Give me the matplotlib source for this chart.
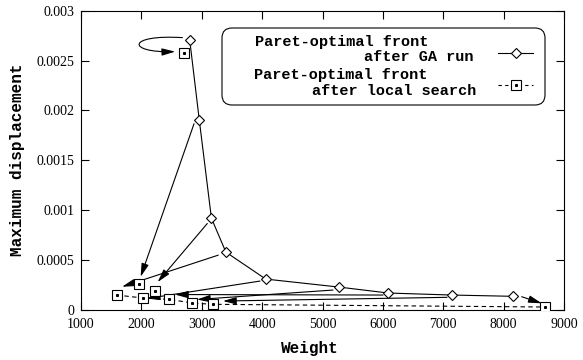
import matplotlib
matplotlib.use("Agg")
import matplotlib.pyplot as plt
from matplotlib.patches import FancyArrowPatch, FancyBboxPatch
from matplotlib.path import Path
from matplotlib.lines import Line2D

# GA front (diamonds)
ga_w = [2800, 2960, 3160, 3400, 4060, 5270, 6090, 7140, 8160]
ga_d = [0.00271, 0.0019, 0.00092, 0.00058, 0.00031, 0.00023, 0.00017, 0.00015, 0.000137]

# Local search front (squares joined by dashed line)
ls_w = [1590, 2030, 2460, 2840, 3190, 8685]
ls_d = [0.00015, 0.00012, 0.000107, 0.00007, 0.000057, 0.00003]

# Other local search results (not on the front)
ls_extra_w = [2700, 1960, 2220]
ls_extra_d = [0.00258, 0.00026, 0.00019]

# Arrows: start -> end
arrow_start_w = [2872, 3092, 3274, 3965, 5174, 6002, 7062, 8299]
arrow_start_d = [0.001867, 0.000867, 0.00055, 0.00029, 0.0002, 0.00015, 0.000127, 0.000133]
arrow_end_w = [1988, 2270, 1680, 2090, 2921, 2557, 3352, 8631]
arrow_end_d = [0.000333, 0.00028, 0.000233, 0.000115, 0.000105, 0.000155, 0.00009, 0.000067]

# loop arrow for the first GA point
loop_w = [2680, 1750, 1750, 2560]
loop_d = [0.00273, 0.002765, 0.002575, 0.00259]

xticks = [1000, 2000, 3000, 4000, 5000, 6000, 7000, 8000, 9000]
yticks = [0, 0.0005, 0.001, 0.0015, 0.002, 0.0025, 0.003]
ytick_labels = ["0", "0.0005", "0.001", "0.0015", "0.002", "0.0025", "0.003"]

fig = plt.figure(figsize=(5.83, 3.6), dpi=100)
ax = fig.add_axes([81 / 583, 1 - 310 / 360, (564 - 81) / 583, (310 - 10.7) / 360])

ax.plot(ga_w, ga_d, color="black", lw=0.8, marker="D", ms=5, mfc="white",
        mec="black", mew=0.8, zorder=3)
ax.plot(ls_w, ls_d, color="black", lw=0.8, ls=(0, (4, 3)), marker="s", ms=7,
        mfc="white", mec="black", mew=0.8, zorder=3)
ax.plot(ls_extra_w, ls_extra_d, ls="none", marker="s", ms=7, mfc="white",
        mec="black", mew=0.8, zorder=3)
ax.plot(ls_w + ls_extra_w, ls_d + ls_extra_d, ls="none", marker="s", ms=1.2,
        mfc="black", mec="black", zorder=4)

astyle = "-|>,head_length=0.8,head_width=0.22"
for sw, sd, ew, ed in zip(arrow_start_w, arrow_start_d, arrow_end_w, arrow_end_d):
    ax.annotate("", xy=(ew, ed), xytext=(sw, sd),
                arrowprops=dict(arrowstyle=astyle, color="black", lw=0.8,
                                shrinkA=0, shrinkB=0, mutation_scale=10),
                zorder=2)

loop_path = Path(list(zip(loop_w, loop_d)),
                 [Path.MOVETO, Path.CURVE4, Path.CURVE4, Path.CURVE4])
loop = FancyArrowPatch(path=loop_path, arrowstyle=astyle, color="black", lw=0.8,
                       mutation_scale=10, transform=ax.transData)
ax.add_patch(loop)

ax.set_xlim(1000, 9000)
ax.set_ylim(0, 0.003)
ax.set_xticks(xticks)
ax.set_yticks(yticks)
ax.set_yticklabels(ytick_labels)
ax.set_xticklabels([str(v) for v in xticks])
ax.tick_params(direction="in", length=6, width=0.8, top=True, right=True,
               labelsize=10)
ax.tick_params(axis="x", pad=6)
ax.tick_params(axis="y", pad=5)
for lab in ax.get_xticklabels() + ax.get_yticklabels():
    lab.set_family("Liberation Serif")
for sp in ax.spines.values():
    sp.set_linewidth(0.8)

lab_font = dict(family="Liberation Mono", weight="bold", size=11.5)
fig.text(310 / 583, 1 - 348 / 360, "Weight", ha="center", va="center", **lab_font)
fig.text(18 / 583, 1 - 160 / 360, "Maximum displacement", ha="center", va="center",
         rotation=90, **lab_font)

# legend box (drawn manually in pixel-inch coords)
tr = fig.dpi_scale_trans
def P(px, py):
    return px / 100, (360 - py) / 100

x0, y0 = P(222, 105)
x1, y1 = P(545, 28)
box = FancyBboxPatch((x0, y0), x1 - x0, y1 - y0,
                     boxstyle="round,pad=0,rounding_size=0.1",
                     transform=tr, fc="white", ec="black", lw=0.8, zorder=5)
fig.patches.append(box)
box.set_figure(fig)

leg_font = dict(family="Liberation Mono", weight="bold", size=11, zorder=10)
fig.text(*P(255, 41.7), "Paret-optimal front", transform=tr, ha="left", va="center", **leg_font)
fig.text(*P(474, 56.7), "after GA run", transform=tr, ha="right", va="center", **leg_font)
fig.text(*P(254, 75), "Paret-optimal front", transform=tr, ha="left", va="center", **leg_font)
fig.text(*P(476, 90.7), "after local search", transform=tr, ha="right", va="center", **leg_font)

lx0, ly_ga = P(498, 53.3)
lx1, _ = P(533, 53.3)
lxm, ly_ls = P(515.5, 85)
fig.add_artist(Line2D([lx0, lx1], [ly_ga, ly_ga], transform=tr, color="black", lw=0.8, zorder=6))
fig.add_artist(Line2D([lxm], [ly_ga], transform=tr, marker="D", ms=5, mfc="white",
                      mec="black", mew=0.8, color="black", zorder=6))
fig.add_artist(Line2D([lx0, lx1], [ly_ls, ly_ls], transform=tr, color="black", lw=0.8,
                      ls=(0, (3, 3)), zorder=6))
fig.add_artist(Line2D([lxm], [ly_ls], transform=tr, marker="s", ms=7, mfc="white",
                      mec="black", mew=0.8, color="black", zorder=6))
fig.add_artist(Line2D([lxm], [ly_ls], transform=tr, marker="s", ms=1.2, mfc="black",
                      mec="black", color="black", zorder=7))

fig.savefig("out.png", dpi=100)
